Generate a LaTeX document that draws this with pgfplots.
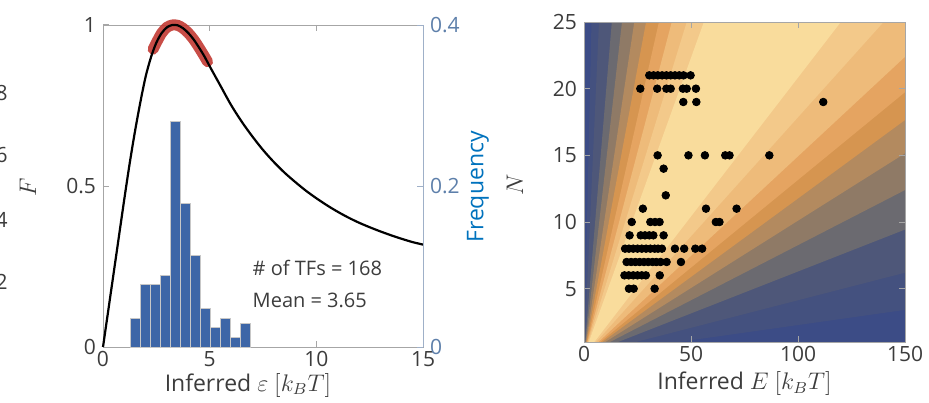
\documentclass[border=0pt]{standalone}
\usepackage{fontspec}
\setmainfont{Open Sans}
\usepackage{pgfplots}
\pgfplotsset{compat=1.18}

\definecolor{axgray}{HTML}{A6A6A6}
\definecolor{txtgray}{HTML}{3C3C3C}
\definecolor{freqblue}{RGB}{0,114,189}
\definecolor{rtick}{HTML}{5D7FAA}
\definecolor{rline}{HTML}{9FB0C8}
\definecolor{barblue}{HTML}{3D66A7}
\definecolor{hilite}{HTML}{C23A33}
% contour bands, outermost (navy) to innermost (cream)
\definecolor{c0}{HTML}{3C4C86}
\definecolor{c1}{HTML}{44517F}
\definecolor{c2}{HTML}{4E5779}
\definecolor{c3}{HTML}{6B6A70}
\definecolor{c4}{HTML}{8F7A66}
\definecolor{c5}{HTML}{B38A5F}
\definecolor{c6}{HTML}{D69550}
\definecolor{c7}{HTML}{E5A461}
\definecolor{c8}{HTML}{EEBB7A}
\definecolor{c9}{HTML}{F3C98A}
\definecolor{c10}{HTML}{F9DC9C}

\pgfplotsset{
  mlab/.style={
    scale only axis,
    axis line style={axgray},
    tick style={axgray, line width=0.5pt},
    major tick length=3pt,
    tick align=inside,
    tick label style={font=\fontsize{10.5}{12}\selectfont, text=txtgray},
    xticklabel style={yshift=1.5pt},
    label style={font=\fontsize{11.5}{13}\selectfont, text=txtgray},
    /pgf/number format/assume math mode=true,
  },
}

\begin{document}
\begin{tikzpicture}
\path[use as bounding box] (0,0) rectangle (464.5pt,201pt);

% tick labels of the cropped panel at the far left
\begin{scope}[every node/.style={anchor=east, inner sep=0pt, text=txtgray, font=\fontsize{10.5}{12}\selectfont}]
\node at (4pt,154.5pt) {8};
\node at (4pt,123.5pt) {6};
\node at (4pt,91pt) {4};
\node at (4pt,60pt) {2};
\end{scope}

% Left panel - F curve
\begin{axis}[
    mlab,
    at={(51.5pt,27.5pt)},
    width=160pt, height=161pt,
    xmin=0, xmax=15, ymin=0, ymax=1,
    xtick={0,5,10,15}, ytick={0,0.5,1},
    ytick pos=left,
    clip=false,
    xlabel={Inferred $\varepsilon$ $[k_BT]$},
    ylabel={$F$},
    xlabel style={at={(axis description cs:0.453,-0.118)}, anchor=center},
    ylabel style={at={(axis description cs:-0.235,0.497)}, anchor=center},
]
\addplot[hilite, opacity=0.9, line width=5.5pt, line cap=round, smooth] coordinates {
    (2.35,0.925) (2.5,0.945) (2.75,0.975) (3,0.993) (3.25,1.0) (3.5,0.999)
    (3.75,0.99) (4,0.975) (4.25,0.955) (4.5,0.93) (4.75,0.903) (4.9,0.886)
};
\addplot[black, line width=1.1pt, smooth] coordinates {
    (0,0) (0.25,0.115) (0.5,0.23) (0.75,0.345) (1,0.46) (1.25,0.57)
    (1.5,0.67) (1.75,0.76) (2,0.84) (2.25,0.9) (2.5,0.945) (2.75,0.975)
    (3,0.993) (3.25,1.0) (3.5,0.999) (3.75,0.99) (4,0.975) (4.25,0.955)
    (4.5,0.93) (4.75,0.903) (5,0.872) (5.5,0.812) (6,0.752) (6.5,0.70)
    (7,0.654) (7.5,0.612) (8,0.575) (8.5,0.542) (9,0.513) (9.5,0.486)
    (10,0.462) (10.5,0.44) (11,0.42) (11.5,0.402) (12,0.386) (12.5,0.372)
    (13,0.359) (13.5,0.347) (14,0.336) (14.5,0.326) (15,0.318)
};
\end{axis}

% Left panel - histogram on the right axis
\begin{axis}[
    mlab,
    at={(51.5pt,27.5pt)},
    width=160pt, height=161pt,
    xmin=0, xmax=15, ymin=0, ymax=0.4,
    axis x line=none,
    axis y line*=right,
    y axis line style={rline},
    ytick={0,0.2,0.4},
    ytick style={rline},
    yticklabel style={text=rtick},
    ylabel={Frequency},
    ylabel style={at={(axis description cs:1.172,0.497)}, anchor=center, text=freqblue},
    ybar, bar width=0.469,
]
\addplot[fill=barblue, draw=black!22, line width=0.5pt] coordinates {
    (1.53,0.0357) (2.00,0.0774) (2.47,0.0774) (2.94,0.0893)
    (3.41,0.2798) (3.88,0.1786) (4.35,0.1131) (4.82,0.0476)
    (5.29,0.0238) (5.76,0.0357) (6.23,0.0119) (6.70,0.0298)
};
\node[anchor=west, align=left, inner sep=0pt, text=txtgray,
      font=\fontsize{10}{16}\selectfont] at (axis cs:7.0,0.078)
    {\# of TFs = 168\\Mean = 3.65};
\end{axis}

% Right panel - contour bands and data
\begin{axis}[
    mlab,
    at={(292pt,30pt)},
    width=160.5pt, height=160pt,
    xmin=0, xmax=150, ymin=1, ymax=25,
    xtick={0,50,100,150}, ytick={5,10,15,20,25},
    axis on top,
    xlabel={Inferred $E$ $[k_BT]$},
    ylabel={$N$},
    xlabel style={at={(axis description cs:0.5,-0.13)}, anchor=center},
    ylabel style={at={(axis description cs:-0.215,0.49)}, anchor=center},
]
\addplot[fill=c0, draw=none] coordinates {(0,0) (0,26) (200,26) (200,0)};
\addplot[fill=c1, draw=none] coordinates {(0,0) (3.64,26) (1144,26)};
\addplot[fill=c2, draw=none] coordinates {(0,0) (7.28,26) (629.2,26)};
\addplot[fill=c3, draw=none] coordinates {(0,0) (13.52,26) (413.4,26)};
\addplot[fill=c4, draw=none] coordinates {(0,0) (18.46,26) (314.6,26)};
\addplot[fill=c5, draw=none] coordinates {(0,0) (24.44,26) (257.4,26)};
\addplot[fill=c6, draw=none] coordinates {(0,0) (30.16,26) (221,26)};
\addplot[fill=c7, draw=none] coordinates {(0,0) (36.4,26) (197.6,26)};
\addplot[fill=c8, draw=none] coordinates {(0,0) (42.64,26) (174.2,26)};
\addplot[fill=c9, draw=none] coordinates {(0,0) (49.92,26) (145.6,26)};
\addplot[fill=c10, draw=none] coordinates {(0,0) (58.24,26) (124.8,26)};

\addplot[only marks, mark=*, mark size=1.9pt, black] coordinates {
    (30.5,21) (32.5,21) (34.5,21) (36.5,21) (38.5,21) (40.5,21) (42.5,21) (44.5,21) (46.5,21) (49.8,21)
    (26.3,20) (34.2,20) (38.5,20) (40.5,20) (46.2,20) (48,20) (52.3,20)
    (46.4,19) (52.5,19) (111.8,19)
    (34.4,15) (48.8,15) (56.5,15) (66,15) (68,15) (86.6,15)
    (37.2,14)
    (38.2,12)
    (27.5,11) (57,11) (71.3,11)
    (22.3,10) (31,10) (33.2,10) (35.3,10) (61.6,10) (63.3,10)
    (21.3,9) (26.5,9) (28.5,9) (30.5,9) (32.4,9) (37.2,9)
    (19.2,8) (21,8) (23,8) (25,8) (27,8) (29,8) (31,8) (33,8) (34.6,8) (36.4,8) (42.5,8) (46.8,8) (52,8) (55.2,8)
    (19.9,7) (22,7) (24,7) (26,7) (28,7) (30,7) (32,7) (33.8,7) (35.8,7) (38.6,7) (45.3,7)
    (18.9,6) (20.9,6) (23,6) (25,6) (27,6) (28.9,6) (35.4,6)
    (21,5) (23.2,5) (33,5)
};
\end{axis}
\end{tikzpicture}
\end{document}
